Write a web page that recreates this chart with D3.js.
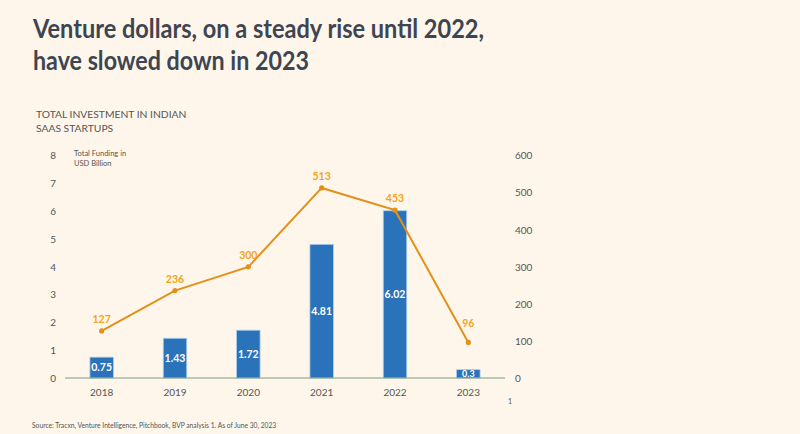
<!DOCTYPE html>
<html>
<head>
<meta charset="utf-8">
<script src="https://cdn.jsdelivr.net/npm/d3@7"></script>
<style>
  body { margin: 0; background: #fef6ea; }
  svg { display: block; font-family: Lato, "Open Sans", sans-serif; }
</style>
</head>
<body>
<svg id="chart" width="800" height="434"></svg>
<script>
// chart data
const years = ["2018", "2019", "2020", "2021", "2022", "2023"];
const funding = [0.75, 1.43, 1.72, 4.81, 6.02, 0.3];   // USD billion (bars, left axis)
const deals = [127, 236, 300, 513, 453, 96];           // line, right axis
const leftTicks = [0, 1, 2, 3, 4, 5, 6, 7, 8];
const rightTicks = [0, 100, 200, 300, 400, 500, 600];

const svg = d3.select("#chart");

svg.append("rect").attr("width", 800).attr("height", 434).attr("fill", "#fef6ea");

// title (squeezed a bit, the original font is narrower)
const title = svg.append("text")
    .attr("fill", "#3e4551")
    .style("font-size", "26px")
    .style("font-weight", "bold");
title.append("tspan").attr("x", 33).attr("y", 38)
    .attr("textLength", 451).attr("lengthAdjust", "spacingAndGlyphs")
    .text("Venture dollars, on a steady rise until 2022,");
title.append("tspan").attr("x", 33).attr("y", 70)
    .attr("textLength", 276).attr("lengthAdjust", "spacingAndGlyphs")
    .text("have slowed down in 2023");

// subtitle
svg.append("text").attr("x", 36).attr("y", 118)
    .attr("fill", "#555").style("font-size", "10.3px")
    .text("TOTAL INVESTMENT IN INDIAN");
svg.append("text").attr("x", 36).attr("y", 132)
    .attr("fill", "#555").style("font-size", "10.3px")
    .text("SAAS STARTUPS");

const margin = { left: 65, right: 295, top: 155.7, bottom: 56 };
const width = 800 - margin.left - margin.right;
const height = 434 - margin.top - margin.bottom;
const g = svg.append("g").attr("transform", `translate(${margin.left},${margin.top})`);

const x = d3.scaleBand().domain(years).range([0, width]).paddingInner(0.68).paddingOuter(0.34);
const xc = d => x(d) + x.bandwidth() / 2;
const yL = d3.scaleLinear().domain([0, 8]).range([height, 0]);
const yR = d3.scaleLinear().domain([0, 600]).range([height, 0]);

// left axis labels
g.append("g")
    .call(d3.axisLeft(yL).tickValues(leftTicks).tickSize(0).tickPadding(9))
    .call(a => a.select(".domain").remove())
    .selectAll("text")
    .attr("fill", "#555")
    .style("font-size", "10px")
    .style("font-family", "Lato, sans-serif");

// right axis labels
g.append("g")
    .attr("transform", `translate(${width},0)`)
    .call(d3.axisRight(yR).tickValues(rightTicks).tickSize(0).tickPadding(10))
    .call(a => a.select(".domain").remove())
    .selectAll("text")
    .attr("fill", "#555")
    .style("font-size", "10px")
    .style("font-family", "Lato, sans-serif");

// x axis labels
g.append("g")
    .attr("transform", `translate(0,${height})`)
    .call(d3.axisBottom(x).tickSize(0).tickPadding(11))
    .call(a => a.select(".domain").remove())
    .selectAll("text")
    .attr("fill", "#555")
    .style("font-size", "10px")
    .style("font-family", "Lato, sans-serif");

// axis unit note
g.append("text").attr("x", 9).attr("y", 0)
    .attr("fill", "#555").style("font-size", "7.5px")
    .text("Total Funding in");
g.append("text").attr("x", 9).attr("y", 10)
    .attr("fill", "#555").style("font-size", "7.5px")
    .text("USD Billion");

// bars
g.selectAll(".bar")
    .data(years)
    .enter().append("rect")
    .attr("class", "bar")
    .attr("x", d => x(d))
    .attr("y", (d, i) => yL(funding[i]))
    .attr("width", x.bandwidth())
    .attr("height", (d, i) => height - yL(funding[i]))
    .attr("fill", "#2a72b9")
    .attr("stroke", "#a9cdee")
    .attr("stroke-width", 0.8);

// baseline
g.append("line")
    .attr("x1", 0).attr("x2", width)
    .attr("y1", height).attr("y2", height)
    .attr("stroke", "#7f9c7c")
    .attr("stroke-width", 1.2);

// bar labels
g.selectAll(".barlabel")
    .data(years)
    .enter().append("text")
    .attr("class", "barlabel")
    .attr("x", d => xc(d))
    .attr("y", (d, i) => (yL(funding[i]) + height) / 2)
    .attr("dy", "0.35em")
    .attr("text-anchor", "middle")
    .attr("fill", "#fff")
    .style("font-size", (d, i) => funding[i] < 0.5 ? "9px" : "10.5px")
    .style("font-weight", "bold")
    .text((d, i) => funding[i]);

// line
const line = d3.line()
    .x((d, i) => xc(years[i]))
    .y(d => yR(d));

g.append("path")
    .datum(deals)
    .attr("d", line)
    .attr("fill", "none")
    .attr("stroke", "#e3901a")
    .attr("stroke-width", 2);

g.selectAll(".dot")
    .data(deals)
    .enter().append("circle")
    .attr("cx", (d, i) => xc(years[i]))
    .attr("cy", d => yR(d))
    .attr("r", 2.6)
    .attr("fill", "#e3901a");

g.selectAll(".linelabel")
    .data(deals)
    .enter().append("text")
    .attr("x", (d, i) => xc(years[i]))
    .attr("y", (d, i) => yR(d) - (i === deals.length - 1 ? 15 : 8))
    .attr("text-anchor", "middle")
    .attr("fill", "#f2a421")
    .style("font-size", "10.5px")
    .style("font-weight", "bold")
    .text(d => d);

// page number and source
svg.append("text").attr("x", 508).attr("y", 404)
    .attr("fill", "#555").style("font-size", "7px")
    .text("1");
svg.append("text").attr("x", 32).attr("y", 428)
    .attr("fill", "#555").style("font-size", "6.7px")
    .text("Source: Tracxn, Venture Intelligence, Pitchbook, BVP analysis 1. As of June 30, 2023");
</script>
</body>
</html>
